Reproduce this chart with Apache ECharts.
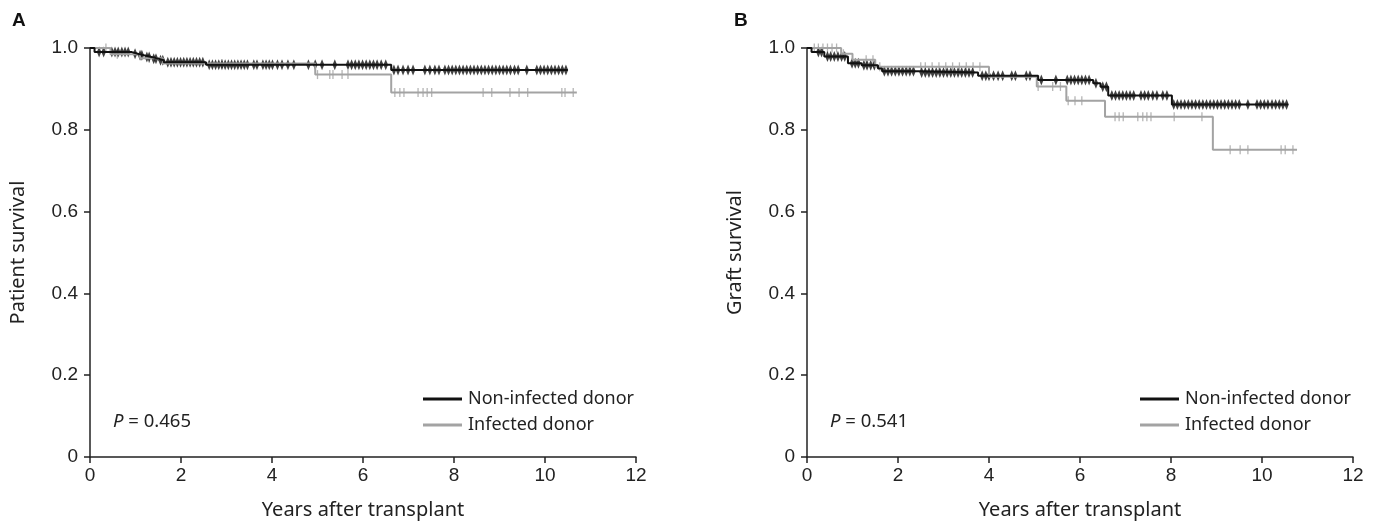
<!DOCTYPE html>
<html>
<head>
    <meta charset="utf-8">
    <title>Survival</title>
    <script src="https://cdn.jsdelivr.net/npm/echarts@6/dist/echarts.min.js"></script>
    <style>
        html, body { margin: 0; padding: 0; background: #fff; }
        #chart { width: 1379px; height: 528px; }
    </style>
</head>
<body>
<div id="chart"></div>
<script>
// x axis ticks (years)
var xTicks = [0, 2, 4, 6, 8, 10, 12];

// panel A - patient survival, step points
var aNonTimes = [0, 0.1, 0.92, 1.05, 1.2, 1.35, 1.5, 1.62, 2.55, 6.62, 10.5];
var aNonSurv = [1.0, 0.99, 0.986, 0.982, 0.978, 0.974, 0.97, 0.965, 0.959, 0.946, 0.946];
var aInfTimes = [0, 0.45, 1.1, 1.6, 4.95, 6.62, 10.7];
var aInfSurv = [1.0, 0.985, 0.975, 0.962, 0.935, 0.891, 0.891];
// censor marks
var aNonCens = [0.2, 0.3, 0.48, 0.55, 0.62, 0.7, 0.77, 0.84, 0.99, 1.1, 1.14, 1.25, 1.3, 1.4, 1.45, 1.55, 1.6,
    1.71, 1.78, 1.85, 1.92, 1.99, 2.06, 2.13, 2.2, 2.27, 2.34, 2.41, 2.48, 2.62, 2.69, 2.76, 2.83, 2.9, 2.97,
    3.04, 3.11, 3.18, 3.25, 3.32, 3.39, 3.46, 3.6, 3.67, 3.8, 3.87, 3.94, 4.01, 4.12, 4.22, 4.35, 4.48, 4.8,
    4.95, 5.1, 5.38, 5.67, 5.75, 5.83, 5.91, 5.99, 6.07, 6.15, 6.23, 6.31, 6.4, 6.5, 6.68, 6.77, 6.88, 6.99,
    7.1, 7.36, 7.47, 7.58, 7.67, 7.8, 7.88, 7.96, 8.04, 8.12, 8.2, 8.28, 8.36, 8.44, 8.52, 8.6, 8.68, 8.76,
    8.84, 8.92, 9.0, 9.08, 9.16, 9.24, 9.33, 9.41, 9.6, 9.82, 9.9, 9.98, 10.06, 10.14, 10.22, 10.3, 10.38, 10.46];
var aInfCens = [0.35, 0.6, 1.3, 2.9, 5.0, 5.27, 5.34, 5.54, 5.67, 6.7, 6.81, 6.9, 7.21, 7.32, 7.41, 7.51,
    8.64, 8.83, 9.23, 9.43, 9.62, 10.37, 10.44, 10.62];

// panel B - graft survival
var bNonTimes = [0, 0.1, 0.38, 0.9, 1.2, 1.56, 1.65, 2.46, 3.76, 5.08, 6.29, 6.45, 6.62, 8.02, 10.57];
var bNonSurv = [1.0, 0.99, 0.979, 0.963, 0.958, 0.95, 0.943, 0.94, 0.932, 0.922, 0.914, 0.905, 0.884, 0.862, 0.862];
var bInfTimes = [0, 0.75, 1.0, 1.5, 4.0, 5.05, 5.7, 6.55, 8.92, 10.77];
var bInfSurv = [1.0, 0.986, 0.971, 0.954, 0.93, 0.906, 0.871, 0.832, 0.751, 0.751];
var bNonCens = [0.25, 0.32, 0.45, 0.52, 0.6, 0.68, 0.76, 0.83, 0.99, 1.06, 1.13, 1.25, 1.32, 1.4, 1.48, 1.7,
    1.78, 1.86, 1.94, 2.02, 2.1, 2.18, 2.26, 2.34, 2.52, 2.6, 2.68, 2.76, 2.84, 2.92, 3.0, 3.08, 3.16, 3.24,
    3.32, 3.4, 3.48, 3.56, 3.64, 3.85, 3.93, 4.0, 4.1, 4.2, 4.3, 4.5, 4.58, 4.82, 4.9, 5.15, 5.47, 5.72, 5.8,
    5.88, 5.96, 6.04, 6.12, 6.2, 6.35, 6.5, 6.58, 6.7, 6.78, 6.86, 6.94, 7.02, 7.1, 7.18, 7.34, 7.42, 7.5,
    7.6, 7.69, 7.82, 7.91, 8.06, 8.14, 8.22, 8.3, 8.38, 8.46, 8.54, 8.62, 8.7, 8.78, 8.86, 8.94, 9.02, 9.1,
    9.18, 9.26, 9.34, 9.42, 9.5, 9.69, 9.89, 9.97, 10.05, 10.13, 10.22, 10.3, 10.38, 10.46, 10.54];
var bInfCens = [0.16, 0.25, 0.35, 0.45, 0.55, 0.65, 0.8, 1.3, 1.45, 1.6, 2.5, 2.6, 2.75, 2.9, 3.05, 3.2, 3.35,
    3.5, 3.65, 3.8, 5.08, 5.4, 5.57, 5.74, 5.89, 6.04, 6.77, 6.86, 6.95, 7.27, 7.38, 7.47, 7.56, 8.07, 8.68,
    9.3, 9.52, 9.69, 10.42, 10.51, 10.68];

var groupNames = ['Non-infected donor', 'Infected donor'];
var pValues = ['0.465', '0.541'];
var yTitles = ['Patient survival', 'Graft survival'];

var BLACK = '#111';
var GRAY = '#a3a3a3';
var tickFont = '"Liberation Sans", Arial, sans-serif';
var textFont = '"Noto Sans", "Open Sans", sans-serif';

function pairs(ts, ss) {
    return ts.map(function (t, i) { return [t, ss[i]]; });
}
// survival level of a step curve at time t
function levelAt(ts, ss, t) {
    var v = ss[0];
    for (var i = 0; i < ts.length; i++) {
        if (ts[i] <= t) v = ss[i];
    }
    return v;
}
function cens(times, ts, ss) {
    return times.map(function (t) { return [t, levelAt(ts, ss, t)]; });
}

function xAxisFor(gi) {
    return {
        type: 'value', gridIndex: gi, min: 0, max: 12, interval: 2,
        name: 'Years after transplant', nameLocation: 'middle', nameGap: 43,
        nameTextStyle: { fontFamily: textFont, fontSize: 20, color: '#222' },
        axisLine: { show: true, onZero: false, lineStyle: { color: '#222', width: 1.5 } },
        axisTick: { show: true, length: 6, lineStyle: { color: '#222', width: 1.5 } },
        axisLabel: { fontFamily: tickFont, fontSize: 19, color: '#222', margin: 9 },
        splitLine: { show: false }
    };
}
function yAxisFor(gi) {
    return {
        type: 'value', gridIndex: gi, min: 0, max: 1, interval: 0.2,
        name: yTitles[gi], nameLocation: 'middle', nameGap: 62,
        nameTextStyle: { fontFamily: textFont, fontSize: 20, color: '#222' },
        axisLine: { show: true, lineStyle: { color: '#222', width: 1.5 } },
        axisTick: { show: true, length: 6, lineStyle: { color: '#222', width: 1.5 } },
        axisLabel: {
            fontFamily: tickFont, fontSize: 19, color: '#222', margin: 12,
            formatter: function (v) { return v === 0 ? '0' : v.toFixed(1); }
        },
        splitLine: { show: false }
    };
}
function stepSeries(gi, name, color, ts, ss) {
    return {
        type: 'line', name: name, xAxisIndex: gi, yAxisIndex: gi, step: 'end',
        data: pairs(ts, ss), showSymbol: false, silent: true,
        lineStyle: { color: color, width: 2 }, itemStyle: { color: color }
    };
}
function censSeries(gi, color, symbol, size, times, ts, ss) {
    return {
        type: 'scatter', name: 'cens' + gi + color, xAxisIndex: gi, yAxisIndex: gi,
        data: cens(times, ts, ss), symbol: symbol, symbolSize: size, silent: true,
        itemStyle: { color: color }
    };
}
function legendFor(left) {
    return {
        data: groupNames, orient: 'vertical', left: left, top: 389, padding: 0,
        icon: 'rect', itemWidth: 39, itemHeight: 3, itemGap: 6,
        selectedMode: false,
        textStyle: { fontFamily: textFont, fontSize: 18, color: '#222', lineHeight: 20, padding: [0, 0, 0, 1] }
    };
}
function pLabel(left, p) {
    return {
        type: 'text', left: left, top: 412,
        style: {
            text: '{i|P} = ' + p,
            rich: { i: { fontStyle: 'italic', fontFamily: textFont, fontSize: 18.5, fill: '#222' } },
            font: '18.5px "Noto Sans"', fill: '#222'
        }
    };
}

var chart = echarts.init(document.getElementById('chart'));
chart.setOption({
    animation: false,
    backgroundColor: '#fff',
    grid: [
        { left: 90, top: 48, width: 546, height: 409 },
        { left: 807, top: 48, width: 546, height: 409 }
    ],
    xAxis: [xAxisFor(0), xAxisFor(1)],
    yAxis: [yAxisFor(0), yAxisFor(1)],
    legend: [legendFor(423), legendFor(1140)],
    graphic: [
        { type: 'text', left: 12, top: 11, style: { text: 'A', font: 'bold 19px "Liberation Sans", Arial', fill: '#111' } },
        { type: 'text', left: 734, top: 11, style: { text: 'B', font: 'bold 19px "Liberation Sans", Arial', fill: '#111' } },
        pLabel(113, pValues[0]),
        pLabel(830, pValues[1])
    ],
    series: [
        stepSeries(0, groupNames[1], GRAY, aInfTimes, aInfSurv),
        censSeries(0, GRAY, 'rect', [1.3, 9], aInfCens, aInfTimes, aInfSurv),
        stepSeries(0, groupNames[0], BLACK, aNonTimes, aNonSurv),
        censSeries(0, BLACK, 'diamond', [4.5, 11], aNonCens, aNonTimes, aNonSurv),
        stepSeries(1, groupNames[1], GRAY, bInfTimes, bInfSurv),
        censSeries(1, GRAY, 'rect', [1.3, 9], bInfCens, bInfTimes, bInfSurv),
        stepSeries(1, groupNames[0], BLACK, bNonTimes, bNonSurv),
        censSeries(1, BLACK, 'diamond', [4.5, 11], bNonCens, bNonTimes, bNonSurv)
    ]
});
</script>
</body>
</html>
